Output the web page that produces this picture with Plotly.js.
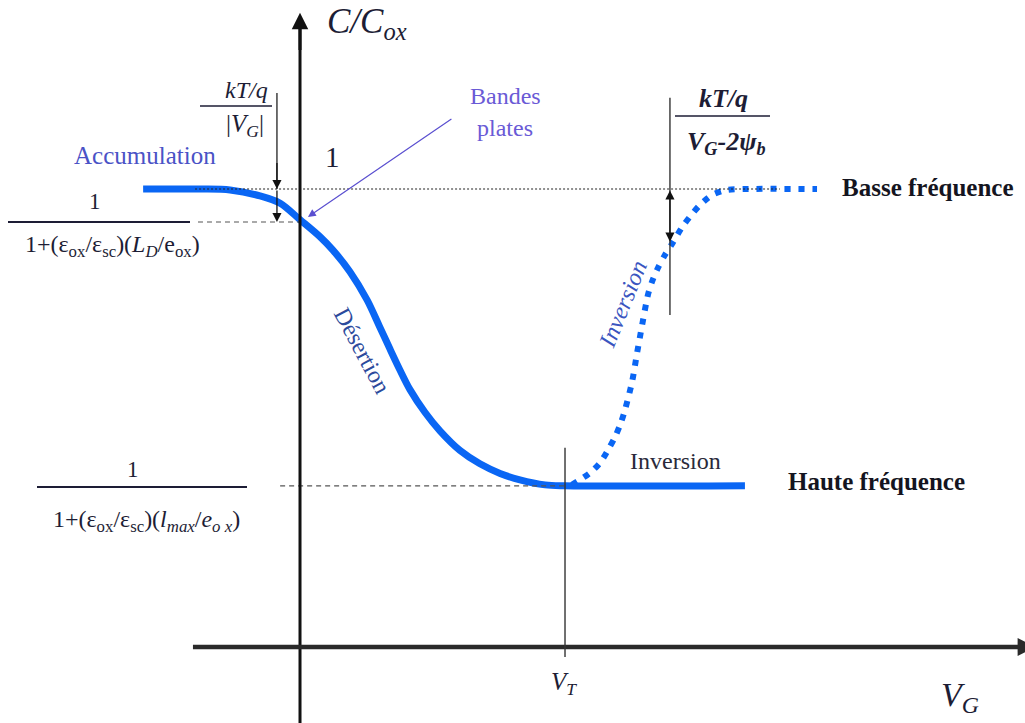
<!DOCTYPE html>
<html>
<head>
<meta charset="utf-8">
<script src="https://cdn.plot.ly/plotly-3.0.1.min.js"></script>
<style>
  html, body { margin: 0; padding: 0; background: #fff; }
  #chart { width: 1025px; height: 723px; }
</style>
</head>
<body>
<div id="chart"></div>
<script>
// MOS capacitance–voltage characteristic, C/Cox versus gate voltage VG
// (VG in units of the threshold voltage VT).

// High-frequency curve: accumulation -> depletion -> inversion plateau
const hfVG = [-0.592, -0.377, -0.264, -0.151, -0.075, 0.000, 0.075, 0.125, 0.189, 0.253,
              0.300, 0.340, 0.377, 0.415, 0.472, 0.528, 0.604, 0.679, 0.755, 0.830,
              0.925, 1.000, 1.679];
const hfC  = [1.000, 1.000, 0.998, 0.985, 0.969, 0.933, 0.896, 0.866, 0.819, 0.758,
              0.700, 0.650, 0.605, 0.562, 0.512, 0.472, 0.429, 0.400, 0.379, 0.365,
              0.354, 0.352, 0.352];

// Low-frequency curve: recovers towards Cox in strong inversion
const lfVG = [1.026, 1.094, 1.132, 1.162, 1.189, 1.208, 1.226, 1.253, 1.272, 1.291,
              1.313, 1.328, 1.351, 1.377, 1.408, 1.442, 1.479, 1.509, 1.555, 1.611,
              1.679, 1.951];
const lfC  = [0.354, 0.380, 0.402, 0.430, 0.459, 0.485, 0.517, 0.579, 0.642, 0.703,
              0.769, 0.797, 0.828, 0.856, 0.884, 0.917, 0.945, 0.965, 0.987, 0.998,
              1.000, 1.000];

// Characteristic levels and voltages
const cOxide    = 1.0;    // C/Cox = 1
const cFlatBand = 0.928;  // flat-band capacitance
const cMin      = 0.352;  // high-frequency minimum
const vT        = 1.0;    // threshold voltage
const vAccMark  = -0.087; // position of the kT/q / |VG| bracket
const vInvMark  = 1.396;  // position of the kT/q / (VG-2psi_b) bracket
const cInvMark  = 0.885;  // low-frequency value at that bracket

// Drawing extents
const W = 1025, H = 723;
const xRange = [-1.1321, 2.7358];
const yRange = [-0.1659, 1.4127];

const BLUE = '#0a66f4';
const INK = '#1d1d35';
const SERIF = 'Liberation Serif, Times New Roman, serif';

// paper position helper for labels
function at(px, py) { return { xref: 'paper', yref: 'paper', x: px / W, y: 1 - py / H }; }

function label(px, py, text, size, color, extra) {
  return Object.assign(at(px, py), {
    text: text, showarrow: false, xanchor: 'center', yanchor: 'middle',
    font: { family: SERIF, size: size, color: color || INK }
  }, extra || {});
}

function arrow(x, y, ax, ay, color, width, size, extra) {
  return Object.assign({
    x: x, y: y, ax: ax, ay: ay, xref: 'x', yref: 'y', axref: 'x', ayref: 'y',
    text: '', showarrow: true, arrowhead: 2, arrowsize: size, arrowwidth: width,
    arrowcolor: color, standoff: 0, startstandoff: 0
  }, extra || {});
}

function hline(y, x0, x1, color, width, dash) {
  return { type: 'line', xref: 'x', yref: 'y', x0: x0, x1: x1, y0: y, y1: y,
           line: { color: color, width: width, dash: dash } };
}
function vline(x, y0, y1, color, width, dash) {
  return { type: 'line', xref: 'x', yref: 'y', x0: x, x1: x, y0: y0, y1: y1,
           line: { color: color, width: width, dash: dash || 'solid' } };
}
function bar(px0, px1, py, width) {
  return { type: 'line', xref: 'paper', yref: 'paper', x0: px0 / W, x1: px1 / W,
           y0: 1 - py / H, y1: 1 - py / H, line: { color: INK, width: width || 1.6 } };
}

const traces = [
  { x: hfVG, y: hfC, mode: 'lines', line: { color: BLUE, width: 7, shape: 'spline', smoothing: 0.9 },
    hoverinfo: 'skip', showlegend: false },
  { x: lfVG, y: lfC, mode: 'lines', line: { color: BLUE, width: 6, shape: 'spline', smoothing: 0.8, dash: '6px,8px' },
    hoverinfo: 'skip', showlegend: false }
];

const shapes = [
  // reference levels
  hline(cOxide, -0.396, 1.811, '#222', 1.2, '2px,2px'),
  hline(cFlatBand, -0.385, 0.0, '#555', 1.2, '5px,4px'),
  hline(cMin, -0.075, vT, '#555', 1.2, '5px,4px'),
  // coordinate axes
  vline(0, yRange[0], 1.36, '#111', 3),
  hline(0, -0.404, xRange[1], '#2a2a2a', 4.5, 'solid'),
  // threshold marker
  vline(vT, -0.022, 0.435, '#333', 1.4),
  // brackets
  vline(vAccMark, 1.2096, cOxide, '#222', 1.3),
  vline(vInvMark, 1.199, 0.725, '#333', 1.4),
  // fraction bars
  bar(200, 272, 106, 1.6),
  bar(8, 190, 222, 2),
  bar(37, 247, 487, 2),
  bar(675, 770, 116, 1.6)
];

const annotations = [
  // axis arrowheads
  arrow(0, 1.385, 0, 1.30, '#111', 3, 1.1),
  arrow(xRange[1] + 0.04, 0, xRange[1] - 0.06, 0, '#2a2a2a', 4, 0.9),
  // flat-band pointer
  arrow(0.030, 0.939, 0.577, 1.155, '#5a4fd0', 1.2, 1.3),
  // accumulation bracket
  arrow(vAccMark, cOxide, vAccMark, 1.06, '#111', 1.3, 1.4),
  arrow(vAccMark, cFlatBand, vAccMark, cOxide, '#111', 1.3, 1.4),
  // inversion bracket (double-headed)
  arrow(vInvMark, cInvMark, vInvMark, cOxide, '#111', 1.3, 1.4, { arrowside: 'end+start' }),

  // axis titles
  label(367, 24, '<i>C/C<sub>ox</sub></i>', 35),
  label(960, 697, '<i>V<sub>G</sub></i>', 34),
  label(564, 683, '<i>V<sub>T</sub></i>', 25),
  label(332, 157, '1', 29),

  // region names
  label(145, 155, 'Accumulation', 25, '#4a52c6'),
  label(505, 96, 'Bandes', 24, '#6a5ad6'),
  label(505, 128, 'plates', 24, '#6a5ad6'),
  label(362, 350, 'Désertion', 24, '#2c4a9c', { textangle: 62 }),
  label(623, 304, '<i>Inversion</i>', 24, '#3a55c0', { textangle: -68 }),
  label(675, 461, 'Inversion', 24, '#2a2a3a'),
  label(928, 188, '<b>Basse fréquence</b>', 25, '#141420'),
  label(876, 481, '<b>Haute fréquence</b>', 25, '#141420'),

  // bracket expressions
  label(246, 90, '<i>kT/q</i>', 24),
  label(245, 125, '|<i>V<sub>G</sub></i>|', 25),
  label(723, 99, '<b><i>kT/q</i></b>', 26),
  label(726, 143, '<b><i>V<sub>G</sub>-2ψ<sub>b</sub></i></b>', 26),

  // capacitance levels
  label(95, 201, '1', 23),
  label(112, 246, '1+(ε<sub>ox</sub>/ε<sub>sc</sub>)(<i>L<sub>D</sub></i>/e<sub>ox</sub>)', 24),
  label(133, 469, '1', 23),
  label(146, 521, '1+(ε<sub>ox</sub>/ε<sub>sc</sub>)(<i>l<sub>max</sub></i>/<i>e<sub>o x</sub></i>)', 24)
];

const layout = {
  width: W, height: H,
  margin: { l: 0, r: 0, t: 0, b: 0, pad: 0 },
  paper_bgcolor: '#fff', plot_bgcolor: '#fff',
  xaxis: { range: xRange, visible: false, fixedrange: true },
  yaxis: { range: yRange, visible: false, fixedrange: true },
  shapes: shapes,
  annotations: annotations,
  showlegend: false
};

Plotly.newPlot('chart', traces, layout, { staticPlot: true, displayModeBar: false });
</script>
</body>
</html>
